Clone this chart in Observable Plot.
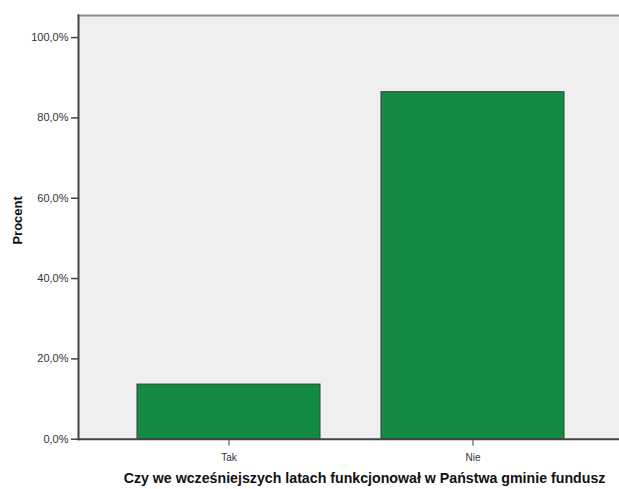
<!DOCTYPE html>
<html>
<head>
<meta charset="utf-8">
<script src="https://cdn.jsdelivr.net/npm/d3@7"></script>
<script src="https://cdn.jsdelivr.net/npm/@observablehq/plot@0.6"></script>
<style>
  html, body { margin: 0; padding: 0; background: #fff; }
  svg { display: block; }
</style>
</head>
<body>
<div id="chart"></div>
<script>
const categories = ["Tak", "Nie"];
const values = [13.6, 86.4];
const yTicks = [0, 20, 40, 60, 80, 100];
const xTitle = "Czy we wcześniejszych latach funkcjonował w Państwa gminie fundusz";
const yTitle = "Procent";

const data = categories.map((c, i) => ({ cat: c, value: values[i] }));
const fmt = d => d.toFixed(1).replace(".", ",") + "%";

const chart = Plot.plot({
  width: 619,
  height: 489,
  marginLeft: 78,
  marginRight: 0,
  marginTop: 15,
  marginBottom: 50.3,
  style: { fontFamily: "'Liberation Sans', Arial, sans-serif", background: "#fff" },
  x: { type: "band", domain: categories, range: [78, 623], paddingInner: 0.249, paddingOuter: 0.237, label: null },
  y: { domain: [0, 105.5], label: null },
  marks: [
    Plot.frame({ fill: "#efefef", stroke: null }),
    Plot.barY(data, { x: "cat", y: "value", fill: "#148b45", stroke: "#3a3a3a", strokeWidth: 1 }),
    Plot.frame({ anchor: "top", stroke: "#8a8a8a", strokeWidth: 2 }),
    Plot.frame({ anchor: "left", stroke: "#444", strokeWidth: 2 }),
    Plot.frame({ anchor: "bottom", stroke: "#444", strokeWidth: 2 }),
    Plot.axisY({ ticks: yTicks, tickFormat: fmt, tickSize: 7, tickPadding: 3, fontSize: 11, color: "#333", stroke: "#444", strokeWidth: 1.5, label: null }),
    Plot.axisX({ tickSize: 7, tickPadding: 8, fontSize: 10, color: "#333", stroke: "#444", label: null }),
    Plot.text([xTitle], { frameAnchor: "bottom", lineAnchor: "middle", textAnchor: "middle", dy: 39.5, dx: 15.5, fontSize: 14.2, fontWeight: "bold", fill: "#111" }),
    Plot.text([yTitle], { frameAnchor: "left", textAnchor: "middle", lineAnchor: "middle", dx: -61, dy: -7, rotate: -90, fontSize: 13, fontWeight: "bold", fill: "#111" })
  ]
});
document.getElementById("chart").appendChild(chart);
</script>
</body>
</html>
